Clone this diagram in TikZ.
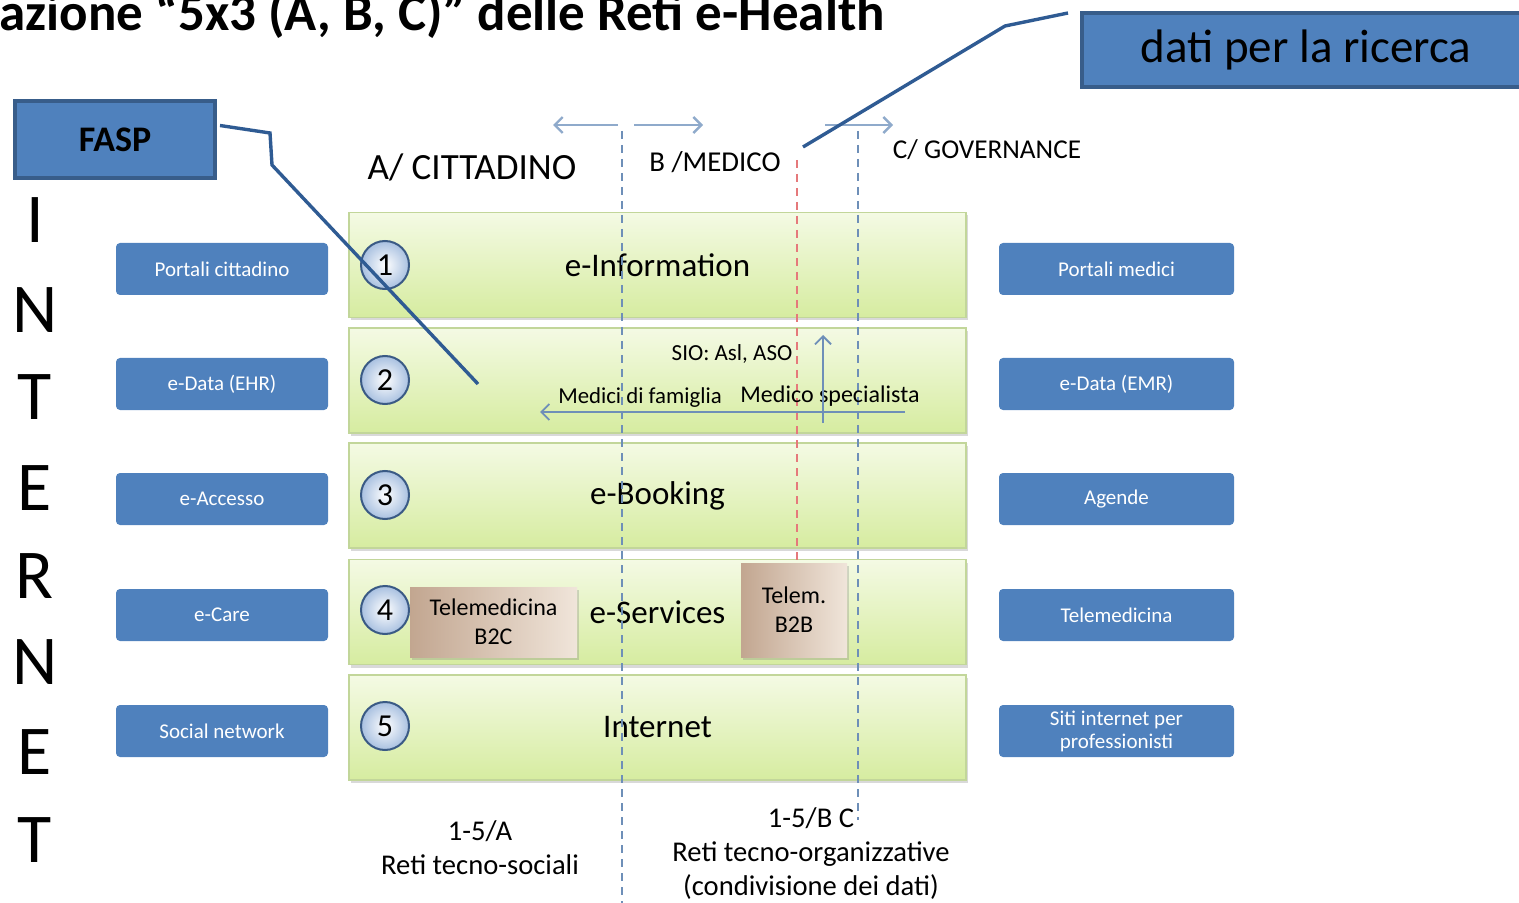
\documentclass[tikz,border=0pt]{standalone}
\usepackage{fontspec}
\setmainfont{Carlito}
\usetikzlibrary{arrows.meta,shadows,calc}
\definecolor{btnblue}{HTML}{4F81BD}
\definecolor{darkblue}{HTML}{385D8A}
\definecolor{connblue}{HTML}{2F5B93}
\definecolor{rowtop}{HTML}{F4FAE4}
\definecolor{rowbot}{HTML}{D6ECA0}
\definecolor{rowborder}{HTML}{C2D69A}
\definecolor{dashblue}{HTML}{6E8FB8}
\definecolor{dashred}{HTML}{E5797B}
\definecolor{arrowblue}{HTML}{8FAACB}
\definecolor{numblue}{HTML}{A8C0E0}
\definecolor{numborder}{HTML}{3A5A85}
\definecolor{tandark}{HTML}{C2A690}
\definecolor{tanlight}{HTML}{F0E5DA}
\begin{document}
\begin{tikzpicture}[x=0.5pt,y=-0.5pt,
  rowbox/.style={draw=rowborder, line width=0.8pt, top color=rowtop, bottom color=rowbot,
    minimum width=308.5pt, minimum height=52.5pt, inner sep=0,
    font=\fontsize{16.5}{18}\selectfont,
    drop shadow={opacity=0.3, shadow xshift=1pt, shadow yshift=-1.5pt}},
  lbtn/.style={fill=btnblue, rounded corners=2pt, minimum width=106pt, minimum height=26pt,
    text=white, font=\fontsize{10.5}{11.5}\selectfont, align=center, inner sep=0},
  rbtn/.style={lbtn, minimum width=117.5pt},
  numc/.style={circle, draw=numborder, line width=1pt, inner color=white, outer color=numblue,
    minimum size=24pt, inner sep=0, font=\fontsize{16}{16}\selectfont},
  tanbox/.style={left color=tandark, right color=tanlight, draw=none, align=center, inner sep=0,
    font=\fontsize{12}{14.5}\selectfont,
    drop shadow={opacity=0.3, shadow xshift=1pt, shadow yshift=-1.5pt}},
  bluebox/.style={fill=btnblue, draw=darkblue, line width=2pt, inner sep=0},
  conn/.style={draw=connblue, line width=1.7pt},
  vdash/.style={draw=dashblue, line width=0.8pt, dash pattern=on 4pt off 3pt},
  rdash/.style={draw=dashred, line width=0.8pt, dash pattern=on 4pt off 3pt},
  toparrow/.style={draw=arrowblue, line width=1.2pt, -{Straight Barb[length=4pt,width=8pt]}},
  midarrow/.style={draw=dashblue, line width=0.9pt, -{Straight Barb[length=4pt,width=8pt]}},
  txt/.style={inner sep=0, align=center}
]
\useasboundingbox (0,0) rectangle (1519,903);

% title (cut off at the top edge, as in the reference)
\node[inner sep=0, anchor=base west, font=\fontsize{26.5}{28}\selectfont\bfseries] (title) at (-1,31)
  {azione “5x3 (A, B, C)” delle Reti e-Health};

% rows
\node[rowbox] (r1) at (657.5,265) {e-Information};
\node[rowbox] (r2) at (657.5,380.5) {};
\node[rowbox] (r3) at (657.5,495.5) {e-Booking};
\node[rowbox] (r4) at (657.5,612) {e-Services};
\node[rowbox] (r5) at (657.5,727.5) {Internet};

% dashed separators
\coordinate (da1) at (622,131); \coordinate (da2) at (622,903);
\coordinate (db1) at (858,131); \coordinate (db2) at (858,820);
\coordinate (dr1) at (797,160); \coordinate (dr2) at (797,565);
\draw[vdash] (da1) -- (da2);
\draw[vdash] (db1) -- (db2);
\draw[rdash] (dr1) -- (dr2);

% top arrows
\coordinate (ta1) at (618,125); \coordinate (ta2) at (553,125);
\coordinate (tb1) at (634,125); \coordinate (tb2) at (703,125);
\coordinate (tc1) at (825,125); \coordinate (tc2) at (893,125);
\draw[toparrow] (ta1) -- (ta2);
\draw[toparrow] (tb1) -- (tb2);
\draw[toparrow] (tc1) -- (tc2);

% headers
\node[txt, font=\fontsize{18.5}{20}\selectfont] (hA) at (472,167) {A/ CITTADINO};
\node[txt, font=\fontsize{14.4}{16}\selectfont] (hB) at (715,162) {B /MEDICO};
\node[txt, font=\fontsize{13.6}{15}\selectfont] (hC) at (987,150) {C/ GOVERNANCE};

% number circles
\foreach \n/\y in {1/265,2/380,3/495,4/610,5/726}
  \node[numc] (n\n) at (385,\y) {\n};

% row 2 content
\node[txt, font=\fontsize{11.5}{13}\selectfont] (sio) at (732,354) {SIO: Asl, ASO};
\node[txt, font=\fontsize{11.4}{13}\selectfont] (mf) at (640,398) {Medici di famiglia};
\node[txt, font=\fontsize{12}{13}\selectfont] (ms) at (830,396) {Medico specialista};
\coordinate (h1) at (905,412); \coordinate (h2) at (540,412);
\coordinate (v1) at (823,423); \coordinate (v2) at (823,335);
\draw[midarrow] (h1) -- (h2);
\draw[midarrow] (v1) -- (v2);

% row 4 boxes
\node[tanbox, minimum width=83.5pt, minimum height=35pt] (b2c) at (493.5,622) {Telemedicina\\B2C};
\node[tanbox, minimum width=53pt, minimum height=47pt] (b2b) at (794,610) {Telem.\\B2B};

% side buttons
\node[lbtn] (l1) at (222,269) {Portali cittadino};
\node[lbtn] (l2) at (222,384) {e-Data (EHR)};
\node[lbtn] (l3) at (222,499) {e-Accesso};
\node[lbtn] (l4) at (222,615) {e-Care};
\node[lbtn] (l5) at (222,731) {Social network};
\node[rbtn] (q1) at (1116.5,269) {Portali medici};
\node[rbtn] (q2) at (1116.5,384) {e-Data (EMR)};
\node[rbtn] (q3) at (1116.5,499) {Agende};
\node[rbtn] (q4) at (1116.5,615) {Telemedicina};
\node[rbtn] (q5) at (1116.5,731) {Siti internet per\\professionisti};

% INTERNET
\foreach \c/\y [count=\i] in {I/220,N/310,T/397,E/488,R/576,N/662,E/752,T/840}
  \node[txt, font=\fontsize{35}{36}\selectfont] (inet\i) at (35,\y) {\c};

% bottom labels
\node[txt, font=\fontsize{14.3}{17}\selectfont] (botA) at (480,848) {1-5/A\\Reti tecno-sociali};
\node[txt, font=\fontsize{14.3}{17}\selectfont] (botB) at (811,854) {1-5/B C\\Reti tecno-organizzative\\(condivisione dei dati)};

% FASP and dati boxes
\node[bluebox, minimum width=100pt, minimum height=38.5pt, font=\fontsize{18}{20}\selectfont\bfseries] (fasp) at (115,139.5) {FASP};
\node[bluebox, minimum width=224pt, minimum height=37pt, font=\fontsize{23.5}{25}\selectfont] (dati) at (1306,50) {dati per la ricerca};

% connectors
\coordinate (fk1) at (270,133); \coordinate (fk2) at (272,165); \coordinate (fend) at (478,384);
\draw[conn] ($(fasp.east)+(3,-14)$) -- (fk1) -- (fk2) -- (fend);
\coordinate (dk1) at (1005,26); \coordinate (dend) at (803,147);
\draw[conn] ($(dati.north west)+(-12,2)$) -- (dk1) -- (dend);
\end{tikzpicture}
\end{document}
